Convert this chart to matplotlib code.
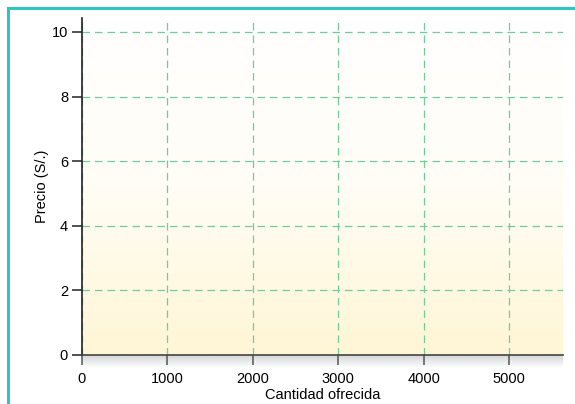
import numpy as np
import matplotlib.pyplot as plt
from matplotlib.lines import Line2D
from matplotlib.colors import LinearSegmentedColormap

plt.rcParams['font.family'] = ['Liberation Sans', 'DejaVu Sans']

x_ticks = [0, 1000, 2000, 3000, 4000, 5000]
y_ticks = [0, 2, 4, 6, 8, 10]
x_label = "Cantidad ofrecida"
y_label = "Precio (S/.)"

fig = plt.figure(figsize=(5.75, 4.04), dpi=100)
ax = fig.add_axes([0.1426, 0.1213, 0.9791 - 0.1426, 0.9554 - 0.1213])

xmax, ymax = 5630, 10.43
ax.set_xlim(0, xmax)
ax.set_ylim(0, ymax)

# background: white at top fading to pale yellow at bottom
bg = LinearSegmentedColormap.from_list("bg", ["#fff6d6", "#fffdf5", "#ffffff"])
grad = np.linspace(0, 1, 256).reshape(-1, 1)
ax.imshow(grad, cmap=bg, extent=[0, xmax, 0, ymax], origin="lower",
          aspect="auto", zorder=0)

# grey shadow under the x axis
sh = LinearSegmentedColormap.from_list("sh", ["#ffffff", "#d4d6d8"])
ax.imshow(grad, cmap=sh, extent=[0, xmax, -0.4, 0], origin="lower",
          aspect="auto", zorder=0, clip_on=False)

ax.set_xticks(x_ticks)
ax.set_yticks(y_ticks)
ax.grid(True, color="#72cc9a", linestyle=(0, (6, 4)), linewidth=0.9, zorder=1)
ax.set_axisbelow(False)

for s in ["top", "right"]:
    ax.spines[s].set_visible(False)
ax.spines["left"].set_color("#222222")
ax.spines["bottom"].set_color("#444444")
for s in ["left", "bottom"]:
    ax.spines[s].set_linewidth(1.2)
    ax.spines[s].set_zorder(5)
ax.tick_params(axis="y", direction="out", length=7, width=1.1,
               color="#222222", labelsize=10.5, pad=3)
ax.tick_params(axis="x", direction="out", length=7, width=1.1,
               color="#555555", labelsize=10.5, pad=5)

ax.set_xlabel(x_label, fontsize=10.5, labelpad=2)
ax.set_ylabel(y_label, fontsize=10.5, labelpad=2)

# teal frame on left and top
fig.add_artist(Line2D([8 / 575, 8 / 575], [0, 1 - 8 / 404],
                      color="#2fc3c6", linewidth=2.2))
fig.add_artist(Line2D([8 / 575, 1], [1 - 8 / 404, 1 - 8 / 404],
                      color="#2fc3c6", linewidth=2.2))

fig.savefig("out.png", dpi=100)
